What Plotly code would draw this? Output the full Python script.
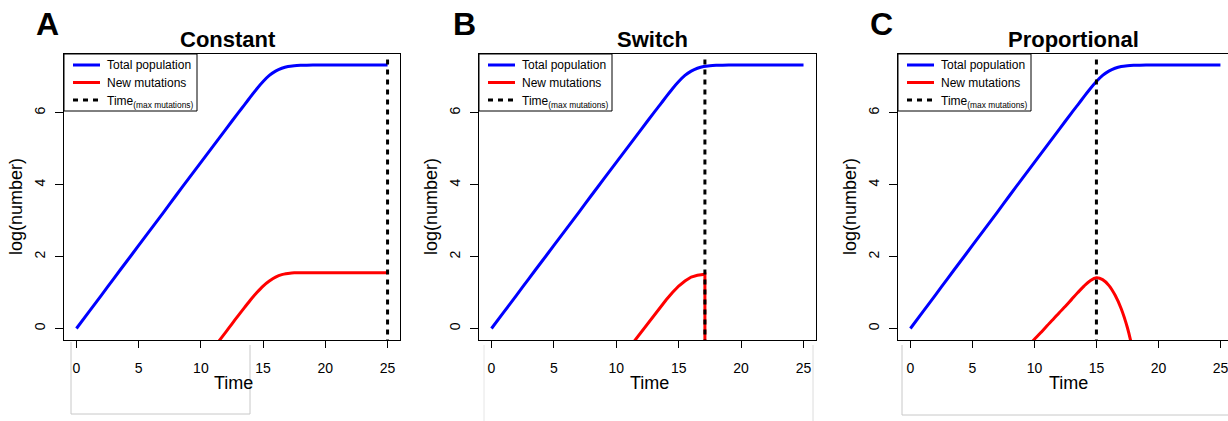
import plotly.graph_objects as go

# ---------------- data ----------------
panel_titles = ["Constant", "Switch", "Proportional"]
panel_letters = ["A", "B", "C"]
x_tick_vals = [0, 5, 10, 15, 20, 25]
y_tick_vals = [0, 2, 4, 6]
series_names = ["Total population", "New mutations", "Time<sub>(max mutations)</sub>"]

# Total population (log) – same in all panels
pop_time = [0, 1, 2, 3, 4, 5, 6, 7, 8, 9, 10, 11, 12, 13, 13.5, 14, 14.5, 15,
            15.5, 16, 16.5, 17, 17.5, 18, 19, 20, 25]
pop_log = [0, 0.46, 0.92, 1.39, 1.85, 2.31, 2.77, 3.23, 3.70, 4.16, 4.62, 5.08,
           5.54, 6.00, 6.22, 6.45, 6.67, 6.87, 7.04, 7.16, 7.24, 7.29, 7.31, 7.32,
           7.33, 7.33, 7.33]

# New mutations (log)
mut_time_A = [11, 11.6, 12, 12.5, 13, 13.5, 14, 14.5, 15, 15.5, 16, 16.5, 17,
              17.5, 18, 19, 25]
mut_log_A = [-0.55, -0.28, -0.10, 0.13, 0.36, 0.58, 0.80, 1.00, 1.18, 1.32, 1.43,
             1.50, 1.53, 1.55, 1.55, 1.55, 1.55]

mut_time_B = [11, 11.6, 12, 12.5, 13, 13.5, 14, 14.5, 15, 15.5, 16, 16.5, 17,
              17.1, 17.1]
mut_log_B = [-0.55, -0.28, -0.10, 0.13, 0.36, 0.58, 0.80, 1.00, 1.18, 1.32, 1.43,
             1.48, 1.51, 1.51, -3.0]

mut_time_C = [9.5, 10, 10.5, 11, 11.5, 12, 12.5, 13, 13.5, 14, 14.5, 15, 15.5,
              16, 16.5, 17, 17.5, 17.8]
mut_log_C = [-0.48, -0.30, -0.12, 0.07, 0.25, 0.44, 0.62, 0.81, 1.00, 1.18, 1.33,
             1.41, 1.36, 1.20, 0.93, 0.55, 0.02, -0.40]

# Time of maximum mutations
t_max = [25, 17.1, 15]
t_max_span = [-1.0, 7.48]

mut_times = [mut_time_A, mut_time_B, mut_time_C]
mut_logs = [mut_log_A, mut_log_B, mut_log_C]

# ---------------- layout geometry ----------------
W, H = 1228, 421
FONT = "Liberation Sans, Arial, Helvetica, sans-serif"
box_left = [64, 479, 898]
box_right = [400, 816, 1228]
x_ranges = [[-1, 26], [-1, 26], [-1, 25.61]]
y_dom = [1 - 340 / H, 1 - 53.5 / H]
y_range = [-0.32, 7.65]
colors = ["#0000ff", "#ff0000", "black"]
dashes = ["solid", "solid", "5px,5px"]


def px(x):
    return x / W


def py(y):
    return 1 - y / H


fig = go.Figure()
shp = []
ann = []

for i in range(3):
    sfx = "" if i == 0 else str(i + 1)
    xa, ya = "x" + sfx, "y" + sfx
    fig.add_trace(go.Scatter(
        x=pop_time, y=pop_log, mode="lines", name=series_names[0],
        line=dict(color=colors[0], width=3, shape="spline", smoothing=0.6),
        xaxis=xa, yaxis=ya, showlegend=False))
    fig.add_trace(go.Scatter(
        x=mut_times[i], y=mut_logs[i], mode="lines", name=series_names[1],
        line=dict(color=colors[1], width=3,
                  shape="spline" if i != 1 else "linear",
                  smoothing=0.6 if i == 0 else 1.0),
        xaxis=xa, yaxis=ya, showlegend=False))
    fig.add_trace(go.Scatter(
        x=[t_max[i], t_max[i]], y=t_max_span, mode="lines",
        name=series_names[2],
        line=dict(color=colors[2], width=3, dash=dashes[2]),
        xaxis=xa, yaxis=ya, showlegend=False))

    fig.layout["xaxis" + sfx] = dict(
        domain=[px(box_left[i]), px(box_right[i])], range=x_ranges[i], anchor=ya,
        tickvals=x_tick_vals,
        ticks="outside", ticklen=7, tickcolor="black", tickwidth=1,
        showline=True, linecolor="black", linewidth=1, mirror=True,
        showgrid=False, zeroline=False, ticklabelstandoff=8,
        ticklabeloverflow="allow",
        tickfont=dict(family=FONT, size=14, color="black"))
    fig.layout["yaxis" + sfx] = dict(
        domain=y_dom, range=y_range, anchor=xa, tickvals=y_tick_vals,
        ticks="outside", ticklen=8, tickcolor="black", tickwidth=1,
        showline=True, linecolor="black", linewidth=1, mirror=(i != 2),
        showgrid=False, zeroline=False, tickangle=-90, ticklabelstandoff=4,
        tickfont=dict(family=FONT, size=14, color="black"))

    # legend box (R style), drawn in page pixels
    L, T = box_left[i], 54
    shp.append(dict(type="rect", xref="paper", yref="paper",
                    x0=px(L), x1=px(L + 133), y0=py(T), y1=py(T + 57),
                    fillcolor="white", line=dict(color="black", width=1), layer="above"))
    for k in range(3):
        yc = T + 11 + 17.5 * k
        shp.append(dict(type="line", xref="paper", yref="paper",
                        x0=px(L + 9), x1=px(L + 36), y0=py(yc), y1=py(yc),
                        line=dict(color=colors[k], width=3, dash=dashes[k]),
                        layer="above"))
        ann.append(dict(text=series_names[k], x=px(L + 41),
                        y=py(yc + (2 if k == 2 else 0)),
                        xref="paper", yref="paper", showarrow=False,
                        xanchor="left", yanchor="middle",
                        font=dict(family=FONT, size=12, color="black")))

# ---------------- text ----------------
letter_x = [47, 464, 881]
title_x = [228, 652, 1073]
xlab_x = [233, 649, 1068]
ylab_x = [16, 431, 850]
for i in range(3):
    ann.append(dict(text="<b>%s</b>" % panel_letters[i], x=px(letter_x[i]), y=py(24),
                    xref="paper", yref="paper", showarrow=False,
                    font=dict(family=FONT, size=32, color="black"),
                    xanchor="center", yanchor="middle"))
    ann.append(dict(text="<b>%s</b>" % panel_titles[i], x=px(title_x[i]), y=py(40),
                    xref="paper", yref="paper", showarrow=False,
                    font=dict(family=FONT, size=22, color="black"),
                    xanchor="center", yanchor="middle"))
    ann.append(dict(text="Time", x=px(xlab_x[i]), y=py(383),
                    xref="paper", yref="paper", showarrow=False,
                    font=dict(family=FONT, size=18, color="black"),
                    xanchor="center", yanchor="middle"))
    ann.append(dict(text="log(number)", x=px(ylab_x[i]), y=py(207),
                    xref="paper", yref="paper", showarrow=False, textangle=-90,
                    font=dict(family=FONT, size=18, color="black"),
                    xanchor="center", yanchor="middle"))

# faint composite-frame artefacts below the panels
gray = "#c8c8c8"
frame = [
    (71, 342, 71, 414, gray), (250, 345, 250, 414, gray), (71, 414, 250, 414, gray),
    (484, 345, 484, 421, "#e6e6e6"), (813, 345, 813, 421, "#dcdcdc"),
    (902, 345, 902, 415, gray), (902, 415, 1228, 415, gray),
]
for x0, y0, x1, y1, c in frame:
    shp.append(dict(type="line", xref="paper", yref="paper",
                    x0=px(x0), y0=py(y0), x1=px(x1), y1=py(y1),
                    line=dict(color=c, width=1), layer="below"))

fig.update_layout(
    width=W, height=H, margin=dict(l=0, r=0, t=0, b=0),
    paper_bgcolor="white", plot_bgcolor="white",
    font=dict(family=FONT, color="black"),
    annotations=ann, shapes=shp, showlegend=False)

fig.write_html("out.html")
